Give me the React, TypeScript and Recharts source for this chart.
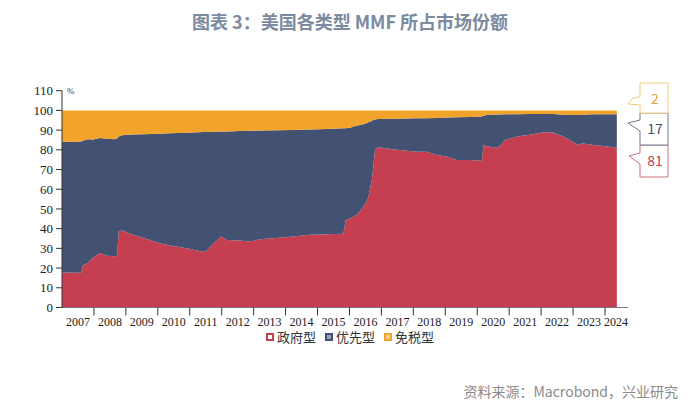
import { AreaChart, Area, XAxis, YAxis, Legend } from 'recharts'

// decimal year of each reading
const years = [
  2007.0, 2007.4, 2007.6, 2007.65, 2007.8, 2007.98, 2008.19, 2008.4, 2008.66, 2008.72,
  2008.78, 2008.87, 2009.2, 2009.55, 2010.07, 2010.38, 2010.9, 2011.42, 2011.53, 2011.74,
  2012.0, 2012.16, 2012.57, 2012.89, 2013.2, 2013.72, 2014.24, 2014.76, 2015.29, 2015.81,
  2015.88, 2016.02, 2016.12, 2016.23, 2016.43, 2016.54, 2016.59, 2016.7, 2016.75, 2016.8,
  2016.9, 2017.48, 2018.1, 2018.42, 2018.73, 2019.04, 2019.36, 2019.77, 2020.14, 2020.2,
  2020.3, 2020.4, 2020.61, 2020.71, 2020.87, 2021.24, 2021.65, 2022.07, 2022.38, 2022.7,
  2022.9, 2023.16, 2023.27, 2023.64, 2023.95, 2024.37,
]
const govShare = [
  17.7, 17.6, 17.8, 21.5, 22.5, 25.5, 27.6, 26.2, 26.0, 26.3,
  38.5, 39.2, 37.0, 35.3, 32.6, 31.4, 30.0, 28.3, 28.8, 32.6,
  36.0, 34.3, 34.0, 33.5, 34.6, 35.2, 36.0, 36.9, 37.2, 37.4,
  44.4, 45.2, 46.0, 47.0, 51.0, 54.0, 56.0, 64.7, 72.0, 80.0,
  81.3, 80.0, 79.0, 79.0, 77.4, 76.6, 74.9, 74.9, 74.4, 82.5,
  81.8, 81.6, 81.0, 82.0, 85.0, 86.7, 87.6, 88.9, 88.8, 86.7,
  85.0, 82.5, 83.3, 82.5, 82.0, 81.0,
]
const primeShare = [
  66.5, 66.4, 66.4, 63.1, 62.9, 59.7, 58.4, 59.4, 59.4, 59.5,
  48.3, 48.2, 50.8, 52.6, 55.6, 57.0, 58.7, 60.7, 60.3, 56.6,
  53.3, 55.0, 55.5, 56.2, 55.2, 54.7, 54.1, 53.4, 53.4, 53.5,
  46.6, 46.0, 45.8, 45.2, 42.0, 39.5, 38.0, 29.9, 23.2, 15.4,
  14.3, 15.8, 17.0, 17.0, 18.8, 19.8, 21.6, 21.8, 22.5, 14.8,
  15.9, 16.2, 16.9, 15.9, 13.0, 11.4, 10.6, 9.3, 9.4, 11.1,
  12.7, 15.2, 14.5, 15.5, 16.0, 17.0,
]
const taxFreeShare = [
  15.8, 16.0, 15.8, 15.4, 14.6, 14.8, 14.0, 14.4, 14.6, 14.2,
  13.2, 12.6, 12.2, 12.1, 11.8, 11.6, 11.3, 11.0, 10.9, 10.8,
  10.7, 10.7, 10.5, 10.3, 10.2, 10.1, 9.9, 9.7, 9.4, 9.1,
  9.0, 8.8, 8.2, 7.8, 7.0, 6.5, 6.0, 5.4, 4.8, 4.6,
  4.4, 4.2, 4.0, 4.0, 3.8, 3.6, 3.5, 3.3, 3.1, 2.7,
  2.3, 2.2, 2.1, 2.1, 2.0, 1.9, 1.8, 1.8, 1.8, 2.2,
  2.3, 2.3, 2.2, 2.0, 2.0, 2.0,
]

const yearTicks = [2007, 2008, 2009, 2010, 2011, 2012, 2013, 2014, 2015, 2016, 2017, 2018, 2019, 2020, 2021, 2022, 2023, 2024]
const yTicks = [0, 10, 20, 30, 40, 50, 60, 70, 80, 90, 100, 110]
const seriesNames = ['政府型', '优先型', '免税型']
const latestLabels = ['81', '17', '2']

const colors = ['#C63F51', '#435273', '#F2A32A']
const legendInner = ['#ffffff', '#9aa6bd', '#f9d592']

const data = years.map((t, i) => ({
  t,
  gov: govShare[i],
  prime: primeShare[i],
  taxFree: taxFreeShare[i],
}))

const W = 700
const H = 410
const PLOT_LEFT = 62
const PLOT_RIGHT = 628
const PLOT_TOP = 90.7
const PLOT_BOTTOM = 307.5
const X_MIN = 2007
const X_MAX = 2024.72
const YEAR_PX = (PLOT_RIGHT - PLOT_LEFT) / (X_MAX - X_MIN)
const serif = '"Liberation Serif", "DejaVu Serif", serif'
const cjk = '"Noto Sans CJK SC", "Noto Sans", sans-serif'

function YearTick({ x, payload }: any) {
  const v = payload.value
  const labelX = v === 2024 ? x + 11 : x + YEAR_PX / 2
  return (
    <g>
      {v > X_MIN && <line x1={x} x2={x} y1={PLOT_BOTTOM} y2={PLOT_BOTTOM + 8} stroke="#333" />}
      <text x={labelX} y={PLOT_BOTTOM + 18} textAnchor="middle" fontFamily={serif} fontSize={12} fill="#222">
        {v}
      </text>
    </g>
  )
}

function LegendBox() {
  return (
    <div style={{ display: 'flex', justifyContent: 'center', gap: 9, fontFamily: cjk, fontSize: 13, color: '#333' }}>
      {seriesNames.map((n, i) => (
        <span key={n} style={{ display: 'flex', alignItems: 'center' }}>
          <span
            style={{
              width: 4,
              height: 4,
              border: `2px solid ${colors[i]}`,
              background: legendInner[i],
              marginRight: 3,
            }}
          />
          {n}
        </span>
      ))}
    </div>
  )
}

// speech-bubble tags at the right end
const tags = [
  { y: 145, tipY: 156, path: 'M640,145 L668,145 L668,177 L640,177 L640,164 L629,156 L640,153 Z', stroke: '#C9707C', fill: '#C03E50' },
  { y: 113, tipY: 123, path: 'M640,113 L668,113 L668,145 L640,145 L640,131 L628,123 L640,120 Z', stroke: '#6f7890', fill: '#435273' },
  { y: 83, tipY: 104, path: 'M640,83 L668,83 L668,113 L640,113 L640,105 L628,104 L633,98 L640,97 Z', stroke: '#EFCB7A', fill: '#E3A23A' },
]

export default function App() {
  return (
    <div style={{ position: 'relative', width: W, height: H, background: '#fff' }}>
      <style>{'body{margin:0}'}</style>
      <div
        style={{
          position: 'absolute',
          top: 8,
          left: 0,
          width: W,
          textAlign: 'center',
          fontFamily: cjk,
          fontSize: 18,
          fontWeight: 600,
          color: '#7b8ba0',
        }}
      >
        图表 3：美国各类型 MMF 所占市场份额
      </div>
      <AreaChart
        width={W}
        height={H}
        data={data}
        margin={{ top: PLOT_TOP, right: W - PLOT_RIGHT, left: 0, bottom: H - PLOT_BOTTOM - 30 }}
      >
        <XAxis
          dataKey="t"
          type="number"
          domain={[X_MIN, X_MAX]}
          ticks={yearTicks}
          interval={0}
          height={30}
          tickLine={false}
          axisLine={{ stroke: '#777' }}
          tick={<YearTick />}
        />
        <YAxis
          domain={[0, 110]}
          ticks={yTicks}
          interval={0}
          width={PLOT_LEFT}
          tickSize={6}
          tickMargin={3}
          tickLine={{ stroke: '#333' }}
          axisLine={{ stroke: '#333' }}
          tick={{ fontFamily: serif, fontSize: 13, fill: '#222' }}
        />
        <Legend
          verticalAlign="middle"
          align="center"
          content={<LegendBox />}
          wrapperStyle={{ top: 327, left: 0, width: W }}
        />
        <Area type="linear" dataKey="gov" name={seriesNames[0]} stackId="1" stroke="none" fill={colors[0]} fillOpacity={1} isAnimationActive={false} />
        <Area type="linear" dataKey="prime" name={seriesNames[1]} stackId="1" stroke="none" fill={colors[1]} fillOpacity={1} isAnimationActive={false} />
        <Area type="linear" dataKey="taxFree" name={seriesNames[2]} stackId="1" stroke="none" fill={colors[2]} fillOpacity={1} isAnimationActive={false} />
      </AreaChart>
      <svg width={W} height={H} style={{ position: 'absolute', left: 0, top: 0, pointerEvents: 'none' }}>
        <text x={67} y={94} fontFamily={serif} fontSize={9} fill="#333">
          %
        </text>
        {tags.map((tg, i) => (
          <g key={i}>
            <path d={tg.path} fill="#fff" stroke={tg.stroke} strokeWidth={1} />
            <text x={655} y={tg.y + 21} textAnchor="middle" fontFamily={cjk} fontSize={14} fill={tg.fill}>
              {latestLabels[i]}
            </text>
          </g>
        ))}
      </svg>
      <div
        style={{
          position: 'absolute',
          top: 381,
          right: 22,
          fontFamily: cjk,
          fontSize: 14,
          color: '#8a8a8a',
        }}
      >
        资料来源：Macrobond，兴业研究
      </div>
    </div>
  )
}
